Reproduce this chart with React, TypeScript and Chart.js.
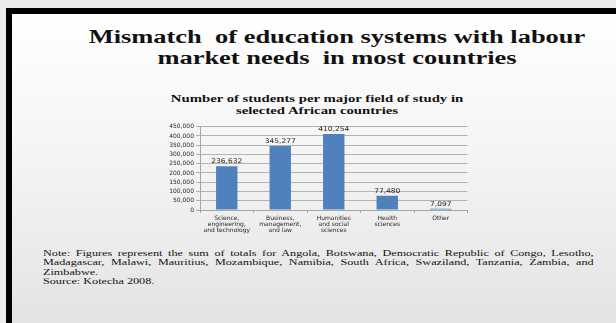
import React, { useEffect, useLayoutEffect, useRef } from "react";
import { Chart, registerables } from "chart.js";

Chart.register(...registerables);

// ---- data ----
const slideTitleLines = ["Mismatch  of education systems with labour", "market needs  in most countries"];
const chartTitleLines = ["Number of students per major field of study in", "selected African countries"];
const categories = [
  ["Science,", "engineering,", "and technology"],
  ["Business,", "management,", "and law"],
  ["Humanities", "and social", "sciences"],
  ["Health", "sciences"],
  ["Other"],
];
const students = [236632, 345277, 410254, 77480, 7097];
const yMin = 0;
const yMax = 450000;
const yStep = 50000;
const noteLines = [
  "Note: Figures represent the sum of totals for Angola, Botswana, Democratic Republic of Congo, Lesotho,",
  "Madagascar, Malawi, Mauritius, Mozambique, Namibia, South Africa, Swaziland, Tanzania, Zambia, and",
  "Zimbabwe.",
  "Source: Kotecha 2008.",
];

const fmt = (v: number) => v.toLocaleString("en-US");

const valueLabels = {
  id: "valueLabels",
  afterDatasetsDraw(chart: any) {
    const ctx = chart.ctx;
    const meta = chart.getDatasetMeta(0);
    ctx.save();
    ctx.font = "6.5px 'DejaVu Sans'";
    ctx.fillStyle = "#262626";
    ctx.textAlign = "center";
    ctx.textBaseline = "alphabetic";
    meta.data.forEach((bar: any, i: number) => {
      ctx.save();
      ctx.translate(bar.x, bar.y - 3);
      ctx.scale(1.15, 1);
      ctx.fillText(fmt(students[i]), 0, 0);
      ctx.restore();
    });
    ctx.restore();
  },
};

function BarChart() {
  const ref = useRef<HTMLCanvasElement | null>(null);
  useEffect(() => {
    if (!ref.current) return;
    const chart = new Chart(ref.current, {
      type: "bar",
      data: {
        labels: categories as any,
        datasets: [
          {
            data: students,
            backgroundColor: "#4f81bd",
            borderWidth: 0,
            barPercentage: 0.4,
            categoryPercentage: 1.0,
          },
        ],
      },
      options: {
        responsive: false,
        animation: false,
        layout: { padding: { top: 6.7, right: 2.5, left: 0, bottom: 0 } },
        plugins: { legend: { display: false }, tooltip: { enabled: false }, title: { display: false } },
        scales: {
          x: {
            afterFit: (s: any) => {
              s.height = 30;
            },
            grid: { drawOnChartArea: false, drawTicks: true, tickLength: 3, color: "#a6a6a6" },
            border: { color: "#a6a6a6" },
            ticks: {
              font: { family: "'DejaVu Sans'", size: 6, lineHeight: 1.05 },
              color: "#262626",
              padding: 2,
              maxRotation: 0,
              autoSkip: false,
            },
          },
          y: {
            min: yMin,
            max: yMax,
            afterFit: (s: any) => {
              s.width = 50;
            },
            grid: { color: "#b3b3b3", tickLength: 4 },
            border: { color: "#a6a6a6" },
            ticks: {
              stepSize: yStep,
              autoSkip: false,
              font: { family: "'DejaVu Sans'", size: 6 },
              color: "#262626",
              padding: 2,
              callback: (v: any) => fmt(Number(v)),
            },
          },
        },
      },
      plugins: [valueLabels],
    });
    return () => chart.destroy();
  }, []);
  return <canvas ref={ref} width={320} height={120} style={{ width: 320, height: 120, display: "block" }} />;
}

export default function App() {
  const titleRefs = useRef<(HTMLDivElement | null)[]>([]);
  const ctitleRefs = useRef<(HTMLDivElement | null)[]>([]);
  const noteRefs = useRef<(HTMLSpanElement | null)[]>([]);
  const noteBox = useRef<HTMLDivElement | null>(null);

  useLayoutEffect(() => {
    const t0 = titleRefs.current[0];
    if (t0) {
      const s = 496 / t0.offsetWidth;
      titleRefs.current.forEach((el) => {
        if (el) el.style.transform = `translateX(-50%) scaleX(${s})`;
      });
    }
    const c0 = ctitleRefs.current[0];
    if (c0) {
      const s = 292 / c0.offsetWidth;
      ctitleRefs.current.forEach((el) => {
        if (el) el.style.transform = `translateX(-50%) scaleX(${s})`;
      });
    }
    const src = noteRefs.current[3];
    if (src && noteBox.current) {
      const s = 111 / src.offsetWidth;
      const inner = 550 / s;
      noteBox.current.style.transform = `scaleX(${s})`;
      noteBox.current.style.width = `${inner}px`;
      [0, 1].forEach((i) => {
        const el = noteRefs.current[i];
        if (!el) return;
        el.style.wordSpacing = "0px";
        const w = el.offsetWidth;
        const spaces = (el.textContent || "").split(" ").length - 1;
        el.style.wordSpacing = `${(inner - w) / spaces}px`;
      });
    }
  }, []);

  const titleStyle = (top: number): React.CSSProperties => ({
    position: "absolute",
    left: 337,
    top,
    whiteSpace: "pre",
    fontFamily: "'Liberation Serif', serif",
    fontWeight: "bold",
    fontSize: 18.5,
    lineHeight: "18.5px",
    color: "#111",
    transformOrigin: "center",
  });
  const ctitleStyle = (top: number): React.CSSProperties => ({
    position: "absolute",
    left: 317,
    top,
    whiteSpace: "pre",
    fontFamily: "'Liberation Serif', serif",
    fontWeight: "bold",
    fontSize: 10.5,
    lineHeight: "10.5px",
    color: "#111",
    transformOrigin: "center",
  });

  return (
    <div style={{ position: "fixed", left: 0, top: 0, width: 616, height: 323, overflow: "hidden", background: "#ececec" }}>
      <div
        style={{
          position: "absolute",
          left: 6,
          top: 8,
          width: 616,
          height: 323,
          borderLeft: "6px solid #000",
          borderTop: "6px solid #000",
          background: "linear-gradient(to bottom, #ffffff 0%, #f4f4f4 45%, #e2e2e2 100%)",
        }}
      />
      {slideTitleLines.map((t, i) => (
        <div key={i} ref={(el) => { titleRefs.current[i] = el; }} style={titleStyle(i === 0 ? 28 : 49)}>
          {t}
        </div>
      ))}
      {chartTitleLines.map((t, i) => (
        <div key={i} ref={(el) => { ctitleRefs.current[i] = el; }} style={ctitleStyle(i === 0 ? 93.5 : 105.5)}>
          {t}
        </div>
      ))}
      <div style={{ position: "absolute", left: 150, top: 120 }}>
        <BarChart />
      </div>
      <div
        ref={noteBox}
        style={{
          position: "absolute",
          left: 43,
          top: 249,
          transformOrigin: "left top",
          fontFamily: "'Liberation Serif', serif",
          fontSize: 9,
          lineHeight: "9.4px",
          color: "#111",
        }}
      >
        {noteLines.map((t, i) => (
          <div key={i} style={{ whiteSpace: "pre" }}>
            <span ref={(el) => { noteRefs.current[i] = el; }} style={{ display: "inline-block" }}>
              {t}
            </span>
          </div>
        ))}
      </div>
    </div>
  );
}
